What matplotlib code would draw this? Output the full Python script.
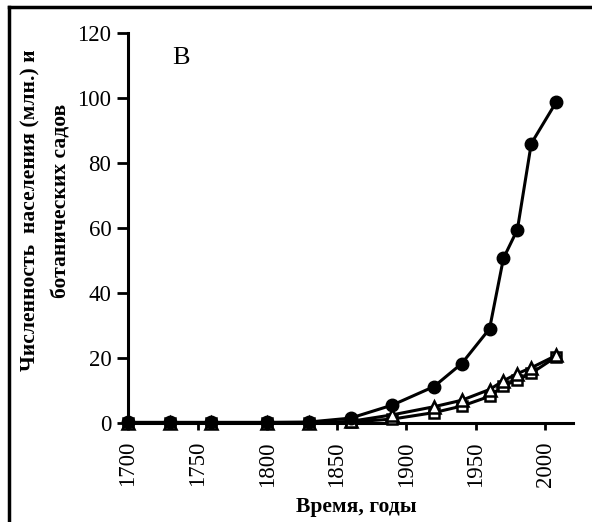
import matplotlib
matplotlib.use("Agg")
import matplotlib.pyplot as plt
from matplotlib.lines import Line2D

years = [1700, 1730, 1760, 1800, 1830, 1860, 1890, 1920, 1940, 1960, 1970, 1980, 1990, 2008]
population = [0.2, 0.2, 0.2, 0.2, 0.3, 1.5, 5.5, 11.2, 18.3, 29.0, 50.7, 59.5, 86.0, 98.8]
series_tri = [0, 0, 0, 0, 0, 0.5, 2.5, 5.0, 7.0, 10.3, 13.0, 15.2, 17.0, 20.8]
series_sq = [0, 0, 0, 0, 0, 0.3, 1.2, 3.2, 5.2, 8.2, 11.5, 13.2, 15.3, 20.4]

x_ticks = [1700, 1750, 1800, 1850, 1900, 1950, 2000]
y_ticks = [0, 20, 40, 60, 80, 100, 120]

ylabel_line1 = 'Численность  населения (млн.) и'
ylabel_line2 = 'ботанических садов'
xlabel_text = 'Время, годы'
panel_label = 'В'

plt.rcParams['font.family'] = ['Liberation Serif', 'DejaVu Serif']

W, H = 592, 522
fig = plt.figure(figsize=(W / 100, H / 100), dpi=100)
ax = fig.add_axes([128 / W, 1 - 423 / H, (573 - 128) / W, (423 - 33) / H])

lw = 2.2
ax.plot(years, series_sq, color='black', lw=lw, marker='s', ms=7,
        mfc='white', mec='black', mew=1.8, zorder=3, clip_on=False)
ax.plot(years, series_tri, color='black', lw=lw, marker='^', ms=8.5,
        mfc='white', mec='black', mew=1.8, zorder=4, clip_on=False)
ax.plot(years, population, color='black', lw=lw, marker='o', ms=9,
        mfc='black', mec='black', zorder=5, clip_on=False)

ax.set_xlim(1700, 2020)
ax.set_ylim(0, 120)
ax.set_xticks(x_ticks)
ax.set_yticks(y_ticks)
ax.set_xticklabels([str(t) for t in x_ticks], rotation=90, fontsize=16.5)
ax.set_yticklabels([str(t) for t in y_ticks], fontsize=16.5)

for s in ['top', 'right']:
    ax.spines[s].set_visible(False)
for s in ['left', 'bottom']:
    ax.spines[s].set_linewidth(2.2)
ax.tick_params(axis='x', direction='out', length=5, width=2, pad=8)
ax.tick_params(axis='y', direction='out', length=8, width=2, pad=4)

fig.text(30 / W, 1 - 210 / H, ylabel_line1, rotation=90, fontsize=15.5,
         fontweight='bold', ha='center', va='center')
fig.text(61 / W, 1 - 201 / H, ylabel_line2, rotation=90, fontsize=15.5,
         fontweight='bold', ha='center', va='center')
fig.text(356 / W, 1 - 512 / H, xlabel_text, fontsize=15.5, fontweight='bold',
         ha='center', va='baseline')

ax.text((181 - 128) / 445, (423 - 58) / 390, panel_label, transform=ax.transAxes,
        fontsize=19, ha='center', va='center')

# figure frame (left and top edges)
fig.add_artist(Line2D([0.0145, 0.0145], [0.0, 0.986], transform=fig.transFigure,
                      color='black', lw=2.5))
fig.add_artist(Line2D([0.0145, 1.0], [0.986, 0.986], transform=fig.transFigure,
                      color='black', lw=2.5))

fig.savefig('out.png', dpi=100)
